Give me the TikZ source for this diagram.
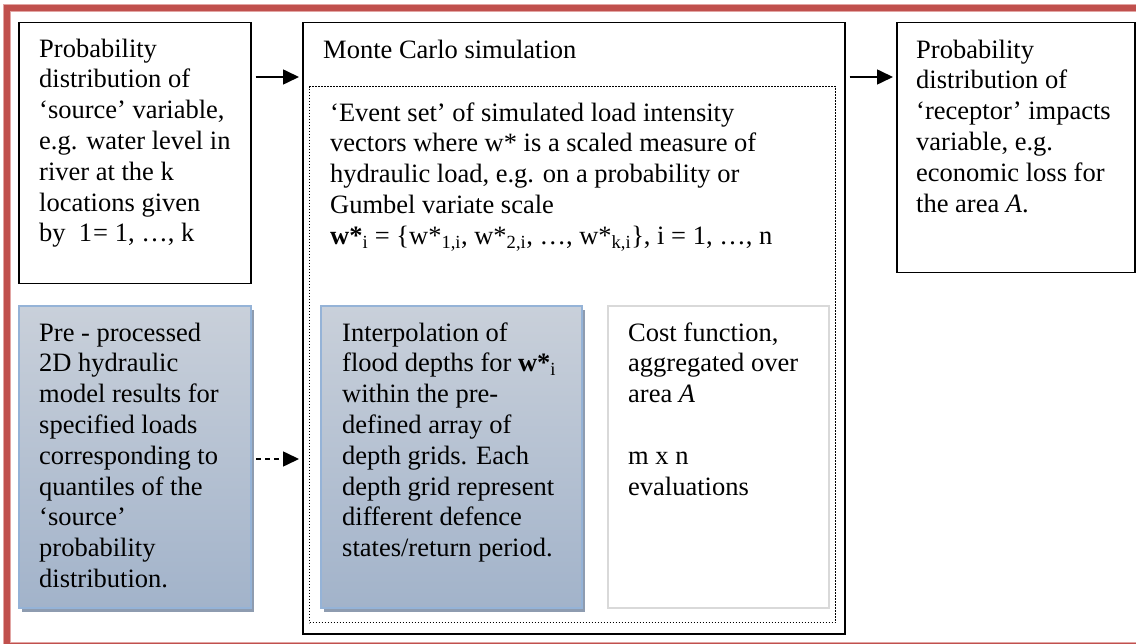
\documentclass[tikz,border=0pt]{standalone}
\usepackage{fontspec}
\setmainfont{Liberation Serif}
\usetikzlibrary{arrows.meta,shadows,calc}

\definecolor{framered}{HTML}{C0504D}
\definecolor{framepink}{HTML}{E2A5A3}
\definecolor{blueedge}{HTML}{95B3D7}
\definecolor{shadowgray}{HTML}{8E9CB0}
\definecolor{shadetop}{HTML}{C9D0DA}
\definecolor{shadebot}{HTML}{A2B3CA}
\definecolor{costedge}{HTML}{D9D9D9}

\tikzset{
  box/.style={draw=black, line width=1.5pt, anchor=north west, inner sep=0pt},
  shadedbox/.style={draw=blueedge, line width=2pt, anchor=north west, inner sep=0pt,
    top color=shadetop, bottom color=shadebot,
    general shadow={fill=shadowgray, shadow xshift=3pt, shadow yshift=-4pt}},
  costbox/.style={draw=costedge, line width=2pt, anchor=north west, inner sep=0pt},
  dotbox/.style={draw=black, line width=1.1pt, dash pattern=on 1.1pt off 1.9pt,
    anchor=north west, inner sep=0pt},
  txt/.style={anchor=north west, inner sep=0pt, align=left,
    font=\fontsize{26.5}{30.8}\selectfont},
  arr/.style={line width=1.6pt, -{Triangle[length=16pt,width=15pt]},
    shorten <=4pt, shorten >=3pt},
  dasharr/.style={arr, dash pattern=on 5pt off 4pt}
}

\begin{document}
\begin{tikzpicture}[x=1pt,y=-1pt]
\useasboundingbox (0,0) rectangle (1136,644);
\clip (0,0) rectangle (1136,644);

% outer frame, open to the right
\draw[line width=8pt, framepink] (7,8.5) rectangle (1150,646);
\draw[line width=6pt, framered] (7,8.5) rectangle (1150,646);

% top row
\node[box, minimum width=232pt, minimum height=261pt] (src) at (18,22) {};
\node[box, minimum width=542pt, minimum height=611pt] (mc) at (302,22) {};
\node[dotbox, minimum width=526pt, minimum height=536pt] (evset) at (309,86) {};
\node[box, minimum width=238pt, minimum height=250pt] (rec) at (896,22) {};

% lower row
\node[shadedbox, minimum width=232pt, minimum height=302pt] (pre) at (18,305) {};
\node[shadedbox, minimum width=261pt, minimum height=302pt] (interp) at (320,305) {};
\node[costbox, minimum width=221pt, minimum height=302pt] (cost) at (607,305) {};

% texts
\node[txt] (srctxt) at (39,35.4) {\strut Probability\\distribution of\\‘source’ variable,\\e.g. water level in\\river at the k\\locations given\\by\ \ 1\kern1pt= 1, …, k};
\node[txt] (mctxt) at (323,36.4) {\strut Monte Carlo simulation};
\node[txt] (evtxt) at (330,99.4) {\strut ‘Event set’ of simulated load intensity\\vectors where w* is a scaled measure of\\hydraulic load, e.g. on a probability or\\Gumbel variate scale\\\textbf{w*}\textsubscript{i} = \{w*\textsubscript{1,i}, w*\textsubscript{2,i}, …, w*\textsubscript{k,i}\}, i = 1, …, n};
\node[txt] (rectxt) at (916,36.4) {\strut Probability\\distribution of\\‘receptor’ impacts\\variable, e.g.\\economic loss for\\the area \textit{A}.};
\node[txt] (pretxt) at (39,319.4) {\strut Pre - processed\\2D hydraulic\\model results for\\specified loads\\corresponding to\\quantiles of the\\‘source’\\probability\\distribution.};
\node[txt] (interptxt) at (342,319.4) {\strut Interpolation of\\flood depths for \textbf{w*}\textsubscript{i}\\within the pre-\\defined array of\\depth grids. Each\\depth grid represent\\different defence\\states/return period.};
\node[txt] (costtxt) at (628,319.4) {\strut Cost function,\\aggregated over\\area \textit{A}\\[30.8pt]m x n\\evaluations};

% connectors
\coordinate (toprow) at (0,77);
\coordinate (lowrow) at (0,459);
\draw[arr] (src.east |- toprow) -- (mc.west |- toprow);
\draw[arr] (mc.east |- toprow) -- (rec.west |- toprow);
\draw[dasharr] (pre.east |- lowrow) -- (mc.west |- lowrow);
\end{tikzpicture}
\end{document}
